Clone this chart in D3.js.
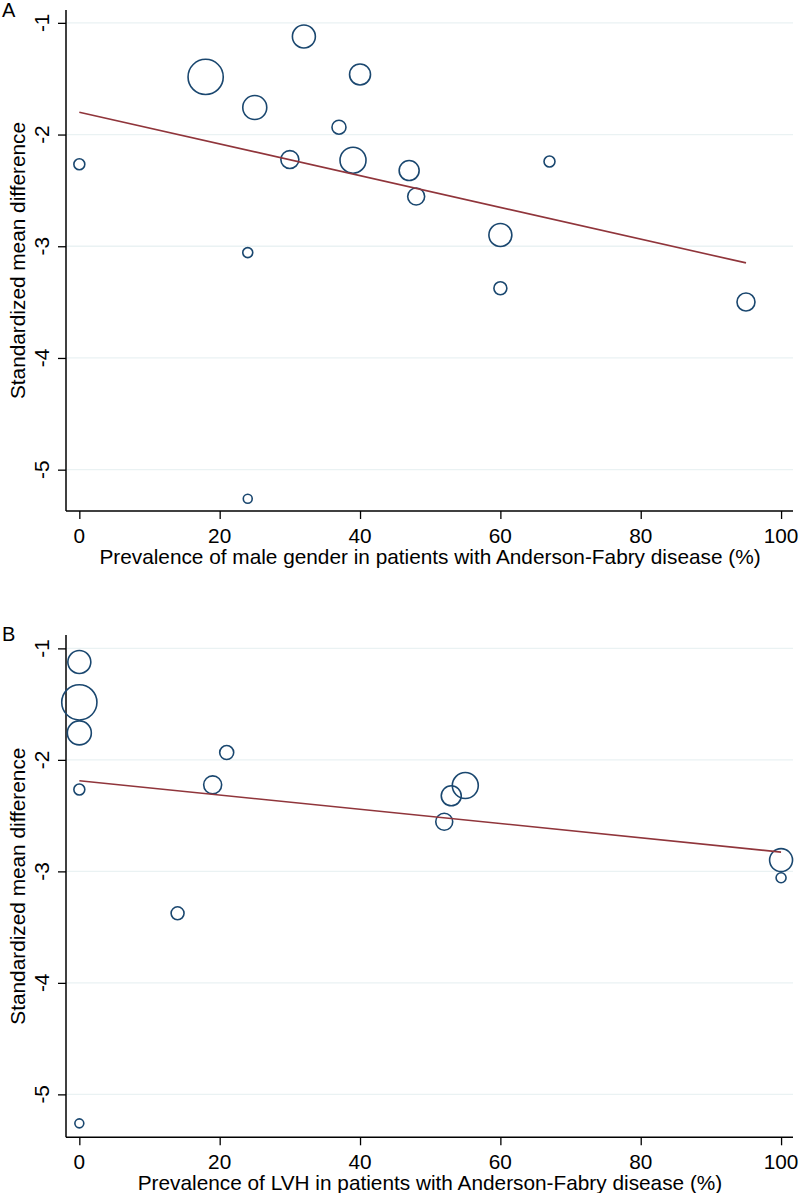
<!DOCTYPE html>
<html>
<head>
<meta charset="utf-8">
<script src="https://cdn.jsdelivr.net/npm/d3@7"></script>
<style>
	body { margin: 0; background: #fff; }
	svg text { font-family: "Liberation Sans", Arial, sans-serif; fill: #000; }
</style>
</head>
<body>
<div id="chart"></div>
<script>
// one entry per study, same order in every array
var smd = [-2.266, -1.484, -1.758, -1.122, -1.462, -1.934, -2.224, -2.230,
	-2.322, -2.555, -3.057, -2.899, -2.241, -3.376, -3.499, -5.26];
var studyWeight = [30, 310, 144, 132, 110, 49, 81, 169, 100, 72, 25, 132, 30, 42, 81, 20];
var malePrev = [0, 18, 25, 32, 40, 37, 30, 39, 47, 48, 24, 60, 67, 60, 95, 24];
var lvhPrev = [0, 0, 0, 0, null, 21, 19, 55, 53, 52, 100, 100, null, 14, null, 0];

// meta-regression lines: [intercept, slope]
var fitMale = [-1.80, -0.0142];
var fitLvh = [-2.187, -0.0064];

var xTicks = [0, 20, 40, 60, 80, 100];
var yTicks = [-1, -2, -3, -4, -5];

var svg = d3.select("#chart").append("svg")
	.attr("width", 800)
	.attr("height", 1193);

var rScale = d3.scaleSqrt().domain([0, d3.max(studyWeight)]).range([0, 17.6]);

function Panel(configuration)
{
	this.config = configuration;
	var cfg = this.config;

	this.render = function()
	{
		var x = d3.scaleLinear().domain([-1.9, 101.7]).range([66, 793]);
		var y = d3.scaleLinear().domain(cfg.yDomain).range([cfg.bottom, cfg.top]);
		var g = svg.append("g");
		var fontSize = 20.8;

		// grid
		g.selectAll(".grid").data(yTicks).enter().append("line")
			.attr("x1", 67).attr("x2", 793)
			.attr("y1", function(d) { return y(d); })
			.attr("y2", function(d) { return y(d); })
			.style("stroke", "#eaf2f3")
			.style("stroke-width", 1.3);

		// y axis
		var yAxis = d3.axisLeft(y).tickValues(yTicks).tickSize(8).tickFormat("");
		var ya = g.append("g").attr("transform", "translate(66,0)").call(yAxis);
		ya.select(".domain").attr("d", "M0," + cfg.top + "V" + cfg.bottom).style("stroke-width", 1.5);
		ya.selectAll(".tick line").style("stroke-width", 1.3);

		g.selectAll(".ylab").data(yTicks).enter().append("text")
			.attr("transform", function(d) { return "translate(49," + y(d) + ") rotate(-90)"; })
			.attr("text-anchor", "middle")
			.style("font-size", fontSize + "px")
			.text(function(d) { return d; });

		// x axis
		var xAxis = d3.axisBottom(x).tickValues(xTicks).tickSize(8).tickFormat("");
		var xa = g.append("g").attr("transform", "translate(0," + cfg.bottom + ")").call(xAxis);
		xa.select(".domain").attr("d", "M66,0H793").style("stroke-width", 1.5);
		xa.selectAll(".tick line").style("stroke-width", 1.3);

		g.selectAll(".xlab").data(xTicks).enter().append("text")
			.attr("x", function(d) { return x(d); })
			.attr("y", cfg.bottom + 32)
			.attr("text-anchor", "middle")
			.style("font-size", fontSize + "px")
			.text(function(d) { return d; });

		// titles
		g.append("text")
			.attr("x", 430)
			.attr("y", cfg.bottom + 53)
			.attr("text-anchor", "middle")
			.style("font-size", fontSize + "px")
			.text(cfg.xTitle);

		g.append("text")
			.attr("transform", "translate(25," + (cfg.top + cfg.bottom) / 2 + ") rotate(-90)")
			.attr("text-anchor", "middle")
			.style("font-size", fontSize + "px")
			.text("Standardized mean difference");

		g.append("text")
			.attr("x", 2)
			.attr("y", cfg.labelY)
			.style("font-size", "20px")
			.text(cfg.label);

		// bubbles
		var pts = smd.map(function(v, i) { return { x: cfg.xs[i], y: v, w: studyWeight[i] }; })
			.filter(function(d) { return d.x != null; });

		g.selectAll(".pt").data(pts).enter().append("circle")
			.attr("cx", function(d) { return x(d.x); })
			.attr("cy", function(d) { return y(d.y); })
			.attr("r", function(d) { return rScale(d.w); })
			.style("fill", "none")
			.style("stroke", "#1a476f")
			.style("stroke-width", 1.6);

		// fitted line
		var ext = d3.extent(pts, function(d) { return d.x; });
		g.append("line")
			.attr("x1", x(ext[0]))
			.attr("y1", y(cfg.fit[0] + cfg.fit[1] * ext[0]))
			.attr("x2", x(ext[1]))
			.attr("y2", y(cfg.fit[0] + cfg.fit[1] * ext[1]))
			.style("stroke", "#90353b")
			.style("stroke-width", 1.6);
	}
}

new Panel({ label: "A", labelY: 17, top: 10, bottom: 511, yDomain: [-5.37, -0.885],
	xs: malePrev, fit: fitMale,
	xTitle: "Prevalence of male gender in patients with Anderson-Fabry disease (%)" }).render();

new Panel({ label: "B", labelY: 641, top: 635, bottom: 1137.3, yDomain: [-5.385, -0.88],
	xs: lvhPrev, fit: fitLvh,
	xTitle: "Prevalence of LVH in patients with Anderson-Fabry disease (%)" }).render();
</script>
</body>
</html>
